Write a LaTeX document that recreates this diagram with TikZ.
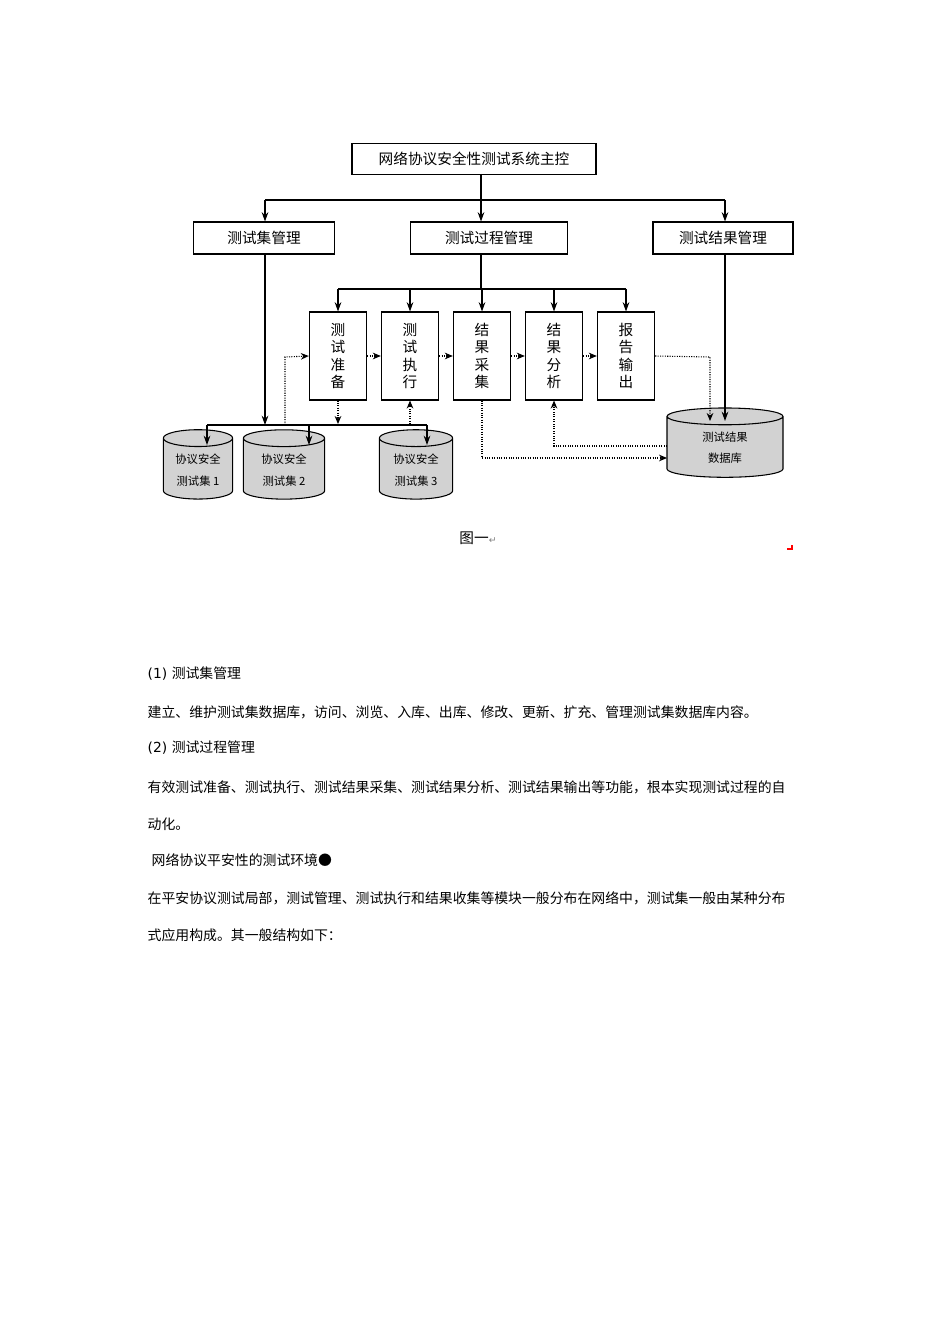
\documentclass[tikz,border=0pt]{standalone}
\usepackage{fontspec}
\setmainfont{DejaVu Sans}
\newfontfamily\cjk{Noto Sans CJK SC}
\usetikzlibrary{arrows.meta,shapes.geometric}
\begin{document}
\begin{tikzpicture}[x=0.75pt,y=-0.75pt,
 box/.style={draw,thick,minimum height=24pt,font=\cjk\fontsize{11}{13}\selectfont,inner sep=0pt},
 vbox/.style={draw,thick,minimum width=43pt,minimum height=66pt,align=center,font=\cjk\fontsize{11}{13}\selectfont,inner sep=0pt},
 cyl/.style={cylinder,shape border rotate=90,draw,thick,fill=gray!35,aspect=0.35,align=center,font=\cjk\fontsize{8.5}{16}\selectfont,inner sep=1pt},
 ar/.style={-{Stealth[length=7pt,width=5pt]},thick},
 dar/.style={-{Stealth[length=6pt,width=5pt]},densely dotted,thick},
 txt/.style={anchor=west,font=\cjk\fontsize{10.4}{12}\selectfont}]
\useasboundingbox (0,0) rectangle (950,1344);
\node[box,minimum width=183pt,minimum height=23pt] (main) at (474,159) {网络协议安全性测试系统主控};
\node[box,minimum width=106pt] (tm) at (264,238) {测试集管理};
\node[box,minimum width=118pt] (pm) at (489,238) {测试过程管理};
\node[box,minimum width=105pt] (rm) at (723,238) {测试结果管理};
\node[vbox] (p1) at (338,356) {测\\试\\准\\备};
\node[vbox] (p2) at (410,356) {测\\试\\执\\行};
\node[vbox] (p3) at (482,356) {结\\果\\采\\集};
\node[vbox] (p4) at (554,356) {结\\果\\分\\析};
\node[vbox] (p5) at (626,356) {报\\告\\输\\出};
\node[cyl,minimum width=52pt,minimum height=52pt] (c1) at (198,470) {协议安全\\测试集 1};
\node[cyl,minimum width=61pt,minimum height=52pt] (c2) at (284,470) {协议安全\\测试集 2};
\node[cyl,minimum width=55pt,minimum height=52pt] (c3) at (416,470) {协议安全\\测试集 3};
\node[cyl,minimum width=87pt,minimum height=52pt] (db) at (725,448) {测试结果\\数据库};
% top tree
\draw[very thick] (481,174) -- (481,200);
\draw[thick] (265,200) -- (725,200);
\draw[ar] (265,200) -- (tm.north-|265,0);
\draw[ar] (481,200) -- (pm.north-|481,0);
\draw[ar] (725,200) -- (rm.north-|725,0);
% process tree
\draw[thick] (pm.south-|481,0) -- (481,289);
\draw[thick] (338,289) -- (626,289);
\foreach \n/\x in {p1/338,p2/410,p3/482,p4/554,p5/626} \draw[ar] (\x,289) -- (\n.north);
% test set tree
\draw[ar] (tm.south-|265,0) -- (265,425);
\draw[thick] (207,425) -- (427,425);
\draw[ar] (207,425) -- (207,445);
\draw[ar] (309,425) -- (309,445);
\draw[ar] (427,425) -- (427,445);
\draw[ar] (rm.south-|725,0) -- (725,421);
% dotted
\draw[dar] (285,425) -- (285,357) -- (p1.west);
\draw[dar] (p1.east) -- (p2.west);
\draw[dar] (p2.east) -- (p3.west);
\draw[dar] (p3.east) -- (p4.west);
\draw[dar] (p4.east) -- (p5.west);
\draw[dar] (p5.east) -- (710,357) -- (710,421);
\draw[dar] (p1.south) -- (338,424);
\draw[dar] (410,424) -- (p2.south);
\draw[dar] (p3.south) -- (482,458) -- (667,458);
\draw[dar] (667,446) -- (554,446) -- (p4.south);
\node[font=\cjk\fontsize{11}{13}\selectfont] (cap) at (478,538) {图一{\fontspec{DejaVu Sans}\textcolor{gray}{\scriptsize ↵}}};
\draw[red,thick] (787,549) -- (792,549) -- (792,545);
% text
\node[txt] (t1) at (143,674) {\fontspec{DejaVu Sans}(1) \cjk 测试集管理};
\node[txt] (t2) at (143,712) {建立、维护测试集数据库，访问、浏览、入库、出库、修改、更新、扩充、管理测试集数据库内容。};
\node[txt] (t3) at (143,748) {\fontspec{DejaVu Sans}(2) \cjk 测试过程管理};
\node[txt] (t4) at (143,787) {有效测试准备、测试执行、测试结果采集、测试结果分析、测试结果输出等功能，根本实现测试过程的自};
\node[txt] (t5) at (143,824) {动化。};
\node[txt] (t6) at (147,860) {网络协议平安性的测试环境●};
\node[txt] (t7) at (143,898) {在平安协议测试局部，测试管理、测试执行和结果收集等模块一般分布在网络中，测试集一般由某种分布};
\node[txt] (t8) at (143,935) {式应用构成。其一般结构如下：};
\end{tikzpicture}
\end{document}
